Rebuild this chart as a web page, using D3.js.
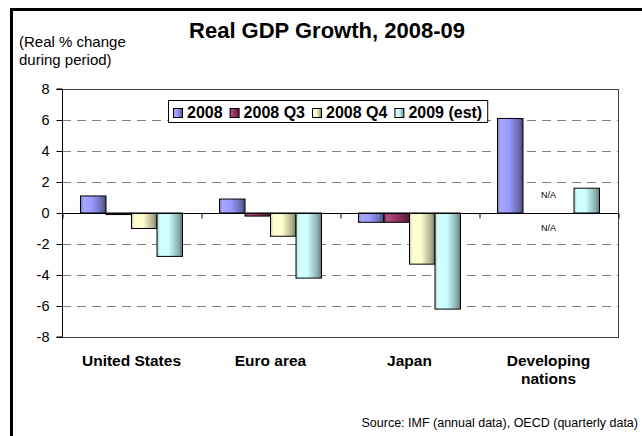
<!DOCTYPE html>
<html>
<head>
<meta charset="utf-8">
<script src="https://cdn.jsdelivr.net/npm/d3@7"></script>
<style>
  html, body { margin: 0; padding: 0; background: #fff; }
  svg { display: block; font-family: Arial, "Liberation Sans", sans-serif; }
</style>
</head>
<body>
<svg id="chart" width="642" height="436"></svg>
<script>
// ---- data ----
const categories = [["United States"], ["Euro area"], ["Japan"], ["Developing", "nations"]];
const seriesNames = ["2008", "2008 Q3", "2008 Q4", "2009 (est)"];
const seriesColors = ["#9999FF", "#993366", "#FFFFCC", "#CCFFFF"];
const values2008   = [1.1, 0.9, -0.6, 6.1];
const values2008Q3 = [-0.1, -0.2, -0.6, null];
const values2008Q4 = [-1.0, -1.5, -3.3, null];
const values2009   = [-2.8, -4.2, -6.2, 1.6];
const yTicks = [-8, -6, -4, -2, 0, 2, 4, 6, 8];
const naLabels = [{cat: 3, series: 1, text: "N/A", pos: "above"}, {cat: 3, series: 2, text: "N/A", pos: "below"}];
const titleText = "Real GDP Growth, 2008-09";
const subtitleLines = ["(Real % change", "during period)"];
const sourceText = "Source: IMF (annual data), OECD (quarterly data)";

const seriesValues = [values2008, values2008Q3, values2008Q4, values2009];

const svg = d3.select("#chart");
const plot = {left: 62, right: 618, top: 89, bottom: 337};

// frame
svg.append("rect").attr("x", 11.5).attr("y", 9.5).attr("width", 700).attr("height", 600)
  .attr("fill", "none").attr("stroke", "#000").attr("stroke-width", 3);

// gradients
const defs = svg.append("defs");
function shade(c, k) { const r = d3.rgb(c); return d3.rgb(r.r * k, r.g * k, r.b * k).formatHex(); }
seriesColors.forEach((c, i) => {
  const g = defs.append("linearGradient").attr("id", "grad" + i)
    .attr("x1", "0%").attr("x2", "100%").attr("y1", "0%").attr("y2", "0%");
  g.append("stop").attr("offset", "0%").attr("stop-color", shade(c, 0.8));
  g.append("stop").attr("offset", "12%").attr("stop-color", d3.interpolateRgb(c, "#fff")(0.15));
  g.append("stop").attr("offset", "45%").attr("stop-color", c);
  g.append("stop").attr("offset", "85%").attr("stop-color", shade(c, 0.68));
  g.append("stop").attr("offset", "100%").attr("stop-color", shade(c, 0.45));
});

// scales
const x0 = d3.scaleBand().domain(d3.range(categories.length)).range([plot.left, plot.right]).paddingInner(0).paddingOuter(0);
const x1 = d3.scaleBand().domain(d3.range(seriesNames.length)).range([0, x0.bandwidth()]).paddingInner(0).paddingOuter(0.725);
const y = d3.scaleLinear().domain([-8, 8]).range([plot.bottom, plot.top]);

// gridlines
svg.append("g").selectAll("line").data(yTicks.filter(t => t !== 0 && Math.abs(t) !== 8)).join("line")
  .attr("x1", plot.left).attr("x2", plot.right)
  .attr("y1", d => Math.round(y(d)) + 0.5).attr("y2", d => Math.round(y(d)) + 0.5)
  .attr("stroke", "#808080").attr("stroke-dasharray", "9,6");

// plot border
svg.append("rect").attr("x", plot.left + 0.5).attr("y", plot.top + 0.5)
  .attr("width", plot.right - plot.left).attr("height", plot.bottom - plot.top)
  .attr("fill", "none").attr("stroke", "#404040").attr("stroke-width", 1);

// bars
const barData = [];
seriesValues.forEach((vals, s) => vals.forEach((v, c) => { if (v !== null) barData.push({s, c, v}); }));
svg.append("g").selectAll("rect").data(barData).join("rect")
  .attr("x", d => x0(d.c) + x1(d.s))
  .attr("width", x1.bandwidth())
  .attr("y", d => y(Math.max(0, d.v)))
  .attr("height", d => Math.abs(y(d.v) - y(0)))
  .attr("fill", d => `url(#grad${d.s})`)
  .attr("stroke", "#000").attr("stroke-width", 1);

// y axis
const yAxis = d3.axisLeft(y).tickValues(yTicks).tickSize(6).tickPadding(7).tickFormat(d => String(d));
const gy = svg.append("g").attr("transform", `translate(${plot.left + 0.5},0)`).call(yAxis);
gy.select(".domain").attr("stroke", "#000").attr("d", `M-6,${y(8)}H0V${y(-8)}H-6`);
gy.selectAll(".tick line").attr("stroke", "#000");
gy.selectAll("text").attr("font-size", "14.5px").attr("fill", "#000").attr("font-family", "Arial, 'Liberation Sans', sans-serif");

// x axis at zero (category axis)
const xAxis = d3.axisBottom(d3.scaleLinear().domain([0, categories.length]).range([plot.left, plot.right]))
  .tickValues(d3.range(categories.length + 1)).tickSize(5).tickFormat("");
const gx = svg.append("g").attr("transform", `translate(0.5,${Math.round(y(0)) + 0.5})`).call(xAxis);
gx.select(".domain").attr("stroke", "#000").attr("d", `M${plot.left},0H${plot.right}`);
gx.selectAll(".tick line").attr("stroke", "#000");

// category labels
const catG = svg.append("g").attr("font-size", "15.5px").attr("font-weight", "bold").attr("text-anchor", "middle");
categories.forEach((lines, i) => {
  const t = catG.append("text").attr("x", x0(i) + x0.bandwidth() / 2).attr("y", 366);
  lines.forEach((ln, j) => t.append("tspan").attr("x", x0(i) + x0.bandwidth() / 2).attr("dy", j === 0 ? 0 : 18).text(ln));
});

// N/A labels
svg.append("g").selectAll("text").data(naLabels).join("text")
  .attr("x", d => x0(d.cat) + x0.bandwidth() / 2)
  .attr("y", d => d.pos === "above" ? y(0) - 15 : y(0) + 18)
  .attr("text-anchor", "middle").attr("font-size", "9px").attr("fill", "#000")
  .text(d => d.text);

// title
svg.append("text").attr("x", 327).attr("y", 38).attr("text-anchor", "middle")
  .attr("font-size", "22px").attr("font-weight", "bold").text(titleText);

// subtitle
const sub = svg.append("text").attr("x", 19).attr("y", 47).attr("font-size", "15px");
subtitleLines.forEach((ln, j) => sub.append("tspan").attr("x", 19).attr("dy", j === 0 ? 0 : 18).text(ln));

// legend
const lg = svg.append("g");
const lgBox = lg.append("rect").attr("x", 168.5).attr("y", 100.5).attr("height", 22)
  .attr("fill", "#fff").attr("stroke", "#000").attr("stroke-width", 1);
let lx = 173;
seriesNames.forEach((n, i) => {
  lg.append("rect").attr("x", lx + 0.5).attr("y", 108.5).attr("width", 9).attr("height", 9)
    .attr("fill", `url(#grad${i})`).attr("stroke", "#000");
  const t = lg.append("text").attr("x", lx + 14).attr("y", 118).attr("font-size", "16px")
    .attr("font-weight", "bold").text(n);
  lx = lx + 14 + t.node().getComputedTextLength() + 7;
});
lgBox.attr("width", lx - 168 - 2);

// source
svg.append("text").attr("x", 638).attr("y", 427).attr("text-anchor", "end")
  .attr("font-size", "12.5px").text(sourceText);
</script>
</body>
</html>
